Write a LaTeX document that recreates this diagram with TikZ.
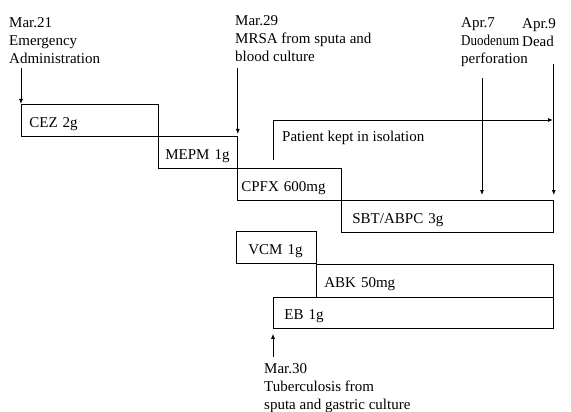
\documentclass[tikz,border=0pt]{standalone}
\usepackage{fontspec}
\setmainfont{Liberation Serif}
\usepackage{tikz}
\usetikzlibrary{arrows.meta}
\pgfdeclarelayer{edgelayer}
\pgfdeclarelayer{nodelayer}
\pgfsetlayers{edgelayer,nodelayer,main}
\tikzstyle{drug}=[rectangle, draw=black, line width=0.8pt, anchor=north west, minimum height=32pt, inner xsep=8pt, inner ysep=0pt, text height=14pt, text depth=0pt, align=left]
\tikzstyle{event}=[anchor=base west, inner sep=0pt, align=left]
\tikzstyle{arr}=[draw=black, line width=0.8pt, -{Latex[length=5pt,width=4pt]}]

\begin{document}
\begin{tikzpicture}[x=1pt, y=-1pt, font=\fontsize{15}{18}\selectfont]
	\useasboundingbox (0,0) rectangle (571,412);
	\begin{pgfonlayer}{nodelayer}

	%drugs
		\node [style=drug, text width=121pt] (cez) at (21,104) {CEZ 2g};
		\node [style=drug, inner xsep=7pt, text width=65pt] (mepm) at (158,136) {MEPM 1g};
		\node [style=drug, inner xsep=4pt, text width=96pt] (cpfx) at (237,168) {CPFX 600mg};
		\node [style=drug, inner xsep=11pt, text width=190pt] (sbt) at (341,200) {SBT/ABPC 3g};
		\node [style=drug, inner xsep=12pt, text width=56pt] (vcm) at (236,231) {VCM 1g};
		\node [style=drug, text width=221pt, minimum height=33pt] (abk) at (316,264) {ABK 50mg};
		\node [style=drug, inner xsep=11pt, text width=258pt, minimum height=31pt] (eb) at (273,297) {EB 1g};

	%events (base = last line)
		\node [style=event] (mar21) at (9,64) {Mar.21\\Emergency\\Administration};
		\node [style=event] (mar29) at (235,62) {Mar.29\\MRSA from sputa and\\blood culture};
		\node [style=event] (apr7) at (461,64) {Apr.7\\\scalebox{0.87}[1]{Duodenum}\\perforation};
		\node [style=event] (apr9) at (522,47) {Apr.9\\Dead};
		\node [style=event] (iso) at (282,142) {Patient kept in isolation};
		\node [style=event] (mar30) at (264,409) {Mar.30\\Tuberculosis from\\sputa and gastric culture};

		\coordinate (isostart) at (273,160);
		\coordinate (isoend) at (553,120);

	\end{pgfonlayer}
	\begin{pgfonlayer}{edgelayer}

	%arrows
		\draw [style=arr] ([yshift=36pt]cez.north west) to (cez.north west);
		\draw [style=arr] ([yshift=68pt]mepm.north east) to ([yshift=2pt]mepm.north east);
		\draw [style=arr] ([xshift=141pt,yshift=122pt]sbt.north west) to ([xshift=141pt,yshift=5pt]sbt.north west);
		\draw [style=arr] ([yshift=136pt]sbt.north east) to ([yshift=5pt]sbt.north east);
		\draw [style=arr] ([yshift=-28pt]eb.south west) to ([yshift=-5pt]eb.south west);
		\draw [style=arr] (isostart) |- (isoend);

	\end{pgfonlayer}
\end{tikzpicture}
\end{document}
